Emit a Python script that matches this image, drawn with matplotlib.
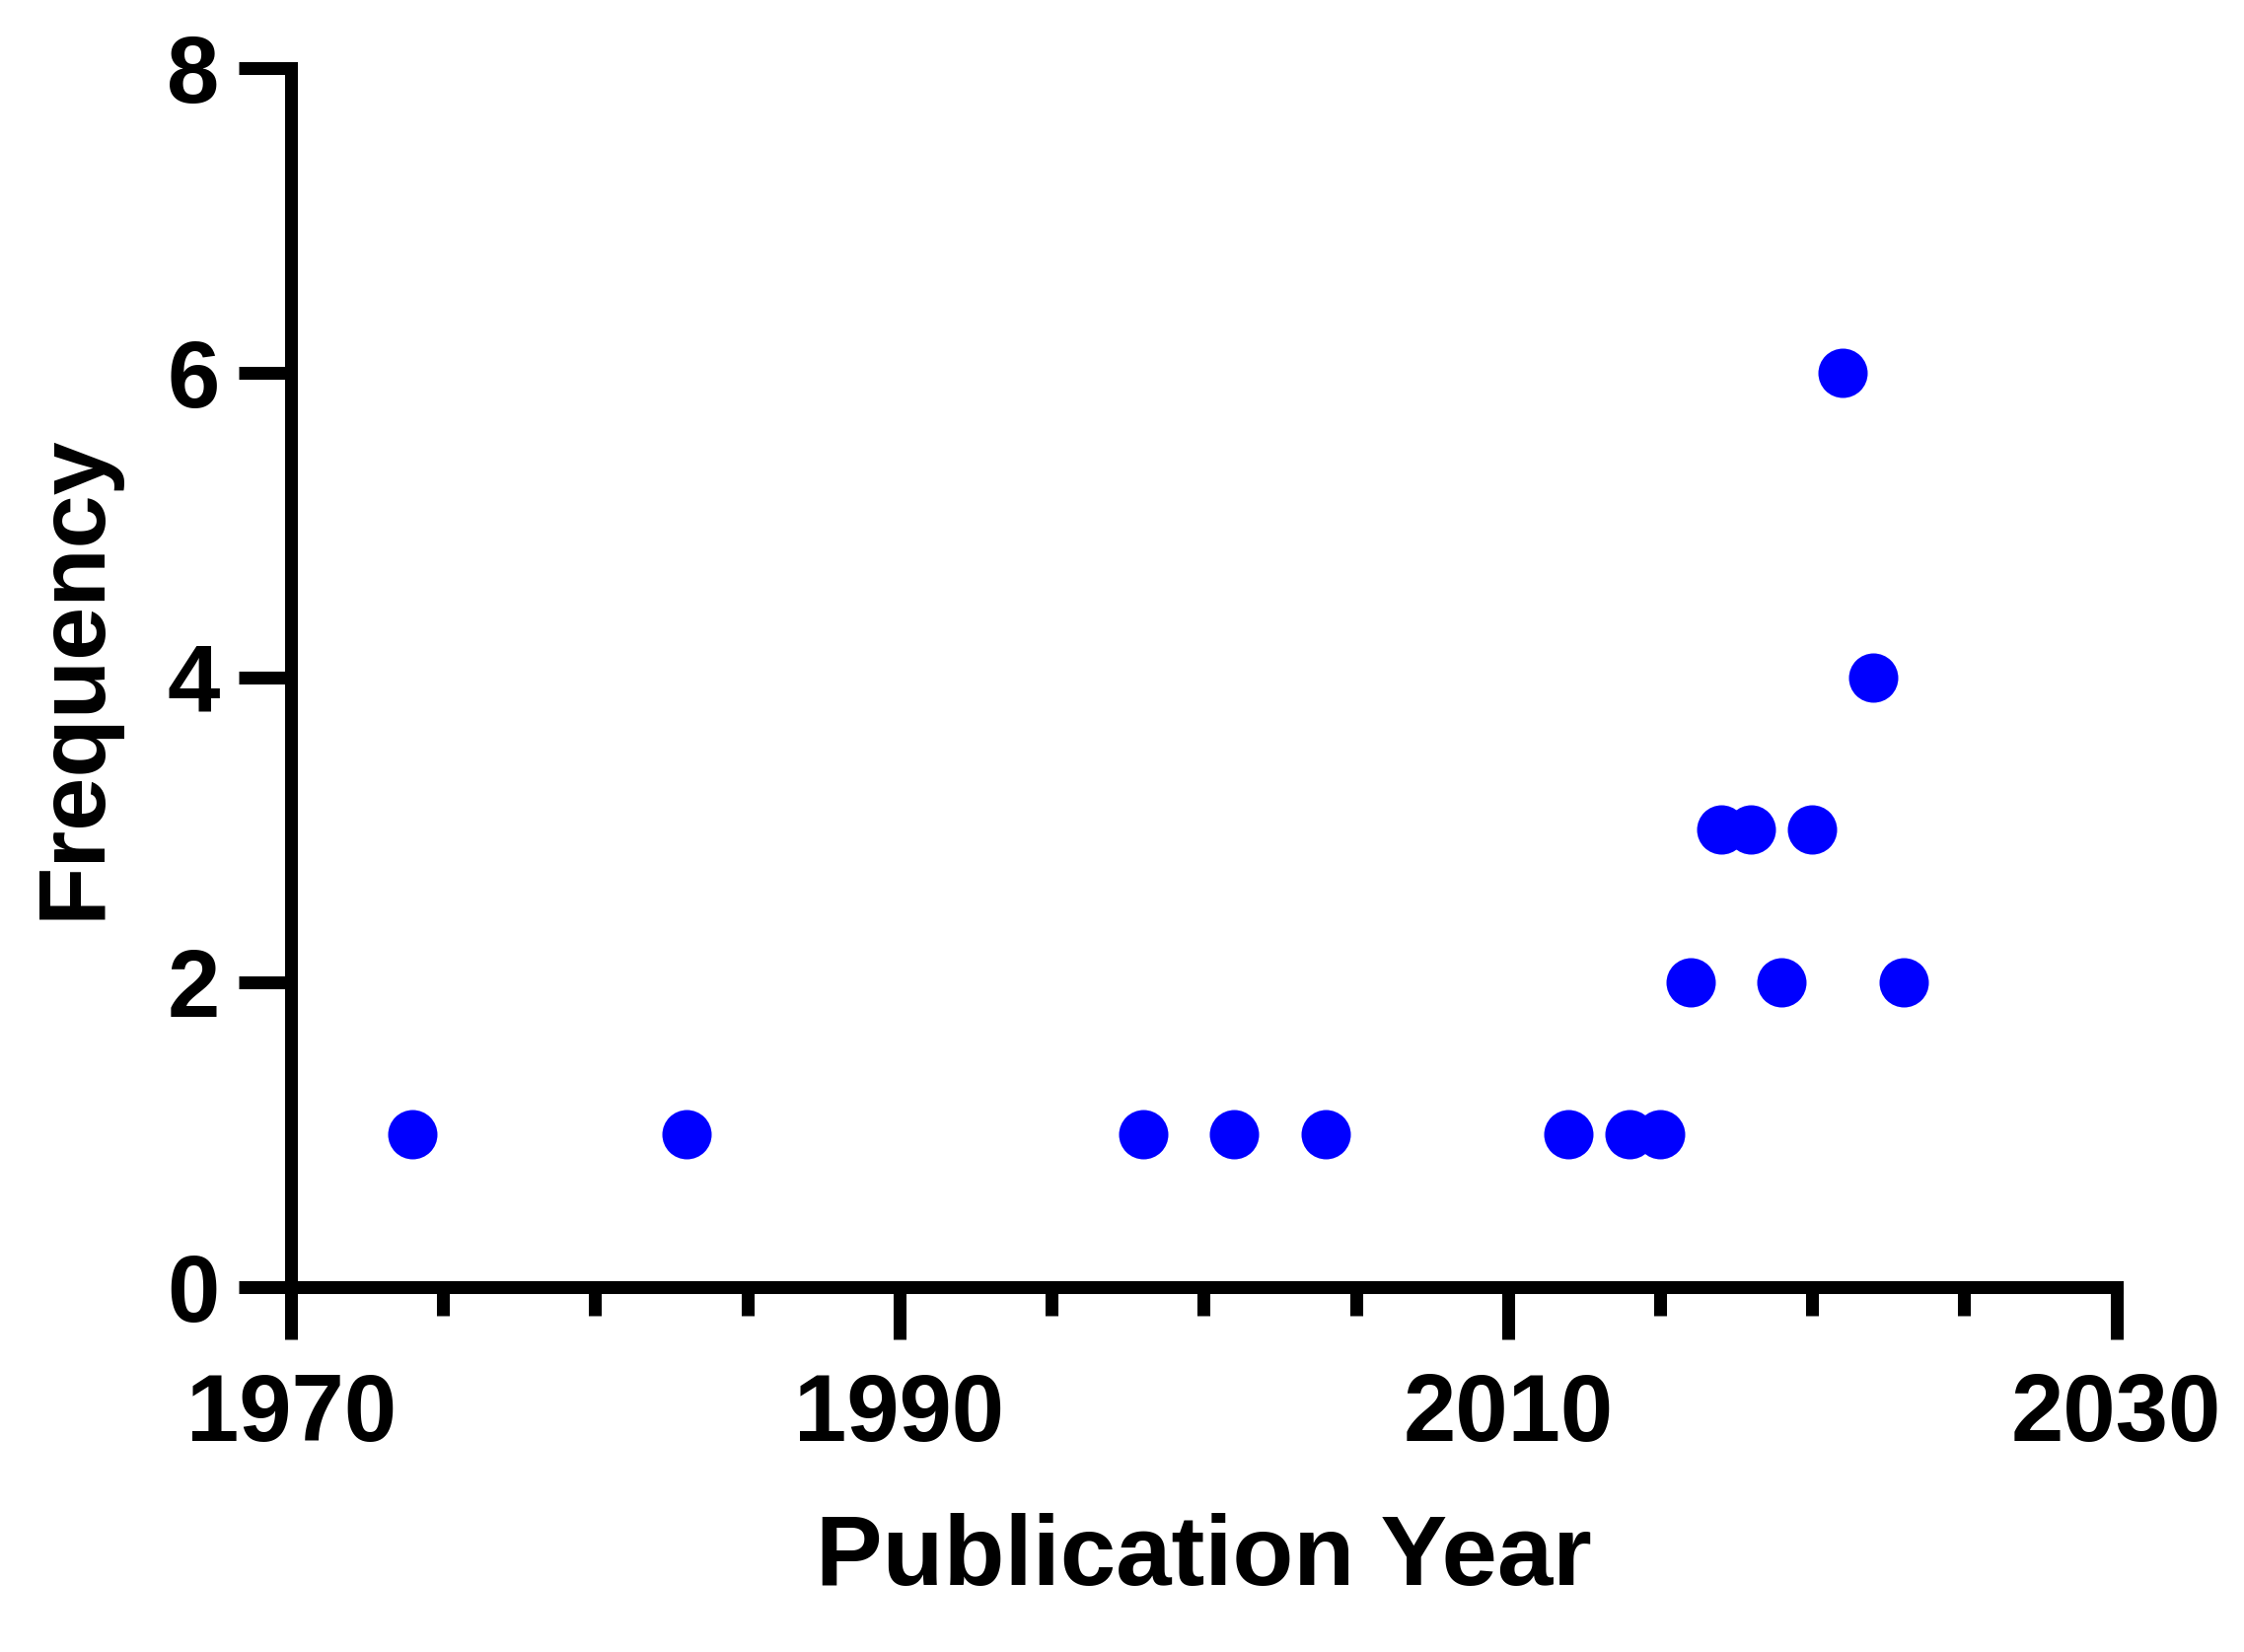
"""Publication year vs frequency scatter."""

import matplotlib
matplotlib.use('Agg')
import matplotlib.pyplot as plt
from matplotlib.ticker import MultipleLocator

# данные
years = [1974, 1983, 1998, 2001, 2004, 2012, 2014, 2015,
         2016, 2017, 2018, 2019, 2020, 2021, 2022, 2023]
frequency = [1, 1, 1, 1, 1, 1, 1, 1,
             2, 3, 3, 2, 3, 6, 4, 2]

x_ticks = [1970, 1990, 2010, 2030]
y_ticks = [0, 2, 4, 6, 8]

plt.rcParams['font.family'] = ['Liberation Sans', 'DejaVu Sans']
plt.rcParams['font.weight'] = 'bold'

fig = plt.figure(figsize=(22.75, 16.75), dpi=100)
ax = fig.add_axes([0.1297, 0.2211, 0.8134, 0.7380])

ax.plot(years, frequency, 'o', color='#0000ff', markersize=36,
        markeredgewidth=0, clip_on=False, zorder=3)

ax.set_xlim(1970, 2030)
ax.set_ylim(0, 8)
ax.set_xticks(x_ticks)
ax.set_yticks(y_ticks)
ax.xaxis.set_minor_locator(MultipleLocator(5))

for side in ('top', 'right'):
    ax.spines[side].set_visible(False)
for side in ('left', 'bottom'):
    ax.spines[side].set_linewidth(9.4)
    ax.spines[side].set_capstyle('projecting')

ax.tick_params(which='major', length=38, width=9.4, pad=24, labelsize=69)
ax.tick_params(which='minor', length=21, width=9.4)
ax.tick_params(axis='y', pad=14)

ax.set_xlabel('Publication Year', fontsize=73, fontweight='bold', labelpad=38)
ax.set_ylabel('Frequency', fontsize=70, fontweight='bold', labelpad=35)

fig.savefig('out.png', dpi=100)
